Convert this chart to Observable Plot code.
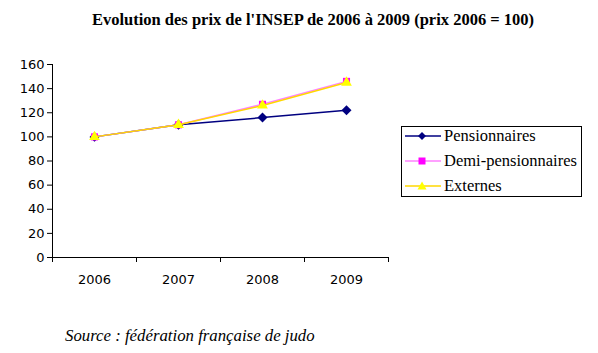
<!DOCTYPE html>
<html><head><meta charset="utf-8">
<script src="https://cdn.jsdelivr.net/npm/d3@7"></script>
<script src="https://cdn.jsdelivr.net/npm/@observablehq/plot@0.6"></script>
<style>
body{margin:0;background:#fff;}
#wrap{position:relative;width:598px;height:353px;overflow:hidden;}
#title{position:absolute;left:0;width:626px;top:10px;text-align:center;font:bold 16.5px "Liberation Serif",serif;color:#000;}
#source{position:absolute;left:65px;top:326px;font:italic 16.8px "Liberation Serif",serif;color:#000;}
#legend{position:absolute;left:401px;top:126px;width:179px;height:69px;border:1px solid #000;background:#fff;}
.row{position:absolute;left:2px;height:20px;display:flex;align-items:center;white-space:nowrap;}
.row svg{margin-right:2px;}
.row span{font-family:"Liberation Serif","Times New Roman",serif !important;font-size:16.5px;color:#000;}
#chart{position:absolute;left:0;top:0;}
</style></head>
<body><div id="wrap">
<div id="chart"></div>
<div id="title">Evolution des prix de l'INSEP de 2006 à 2009 (prix 2006 = 100)</div>
<div id="legend"></div>
<div id="source">Source : fédération française de judo</div>
</div>
<script>
const years = ["2006","2007","2008","2009"];
const pensionnaires = [100,110,116,122];
const demiPensionnaires = [100,110,127,146];
const externes = [100,110,126,145];
const seriesNames = ["Pensionnaires","Demi-pensionnaires","Externes"];
const seriesColors = ["#000080","#ff00ff","#ffff00"];
const lineColors = ["#000080","#ff80ff","#ffd700"];
const seriesSymbols = ["diamond2","square","triangle"];
const yTicks = [0,20,40,60,80,100,120,140,160];

const allValues = [pensionnaires, demiPensionnaires, externes];
const rows = [];
allValues.forEach((vals, s) => vals.forEach((v, i) => rows.push({s, i: i + 0.5, year: years[i], v})));

const marks = [];
allValues.forEach((vals, s) => {
  const d = rows.filter(r => r.s === s);
  marks.push(Plot.line(d, {x: "i", y: "v", stroke: lineColors[s], strokeWidth: 1.5}));
  marks.push(Plot.dot(d, {x: "i", y: "v", fill: seriesColors[s], symbol: () => seriesSymbols[s], r: s === 0 ? 4.5 : 4, stroke: "none"}));
});

const chart = Plot.plot({
  width: 598, height: 353,
  marginLeft: 52, marginRight: 210, marginTop: 64, marginBottom: 96,
  style: {fontFamily: "DejaVu Sans", fontSize: "12px", color: "#000", background: "transparent"},
  x: {domain: [0, 4], axis: null},
  y: {domain: [0, 160], axis: null},
  marks: [
    Plot.axisY({ticks: yTicks, tickSize: 5, tickPadding: 3, label: null, fontSize: 13}),
    Plot.ruleX([0], {stroke: "#000"}),
    Plot.ruleY([0], {stroke: "#000"}),
    Plot.axisX({ticks: [0,1,2,3,4], tickSize: 5, tickFormat: () => "", label: null}),
    Plot.axisX({ticks: [0.5,1.5,2.5,3.5], tickSize: 0, tickPadding: 17, tickFormat: d => years[Math.floor(d)], label: null, fontSize: 13}),
    ...marks
  ]
});
document.getElementById("chart").appendChild(chart);

const leg = document.getElementById("legend");
const symPaths = {
  diamond2: "M18,5 L22,9 L18,13 L14,9 Z",
  square: "M14.5,5.5 H21.5 V12.5 H14.5 Z",
  triangle: "M18,4.5 L22.5,12.5 H13.5 Z"
};
seriesNames.forEach((name, s) => {
  const row = document.createElement("div");
  row.className = "row";
  row.style.top = (s * 25 - 1) + "px";
  row.innerHTML = `<svg width="38" height="18"><line x1="1" x2="37" y1="9" y2="9" stroke="${lineColors[s]}" stroke-width="1.5"/><path d="${symPaths[seriesSymbols[s]]}" fill="${seriesColors[s]}"/></svg><span>${name}</span>`;
  leg.appendChild(row);
});
</script>
</body></html>
